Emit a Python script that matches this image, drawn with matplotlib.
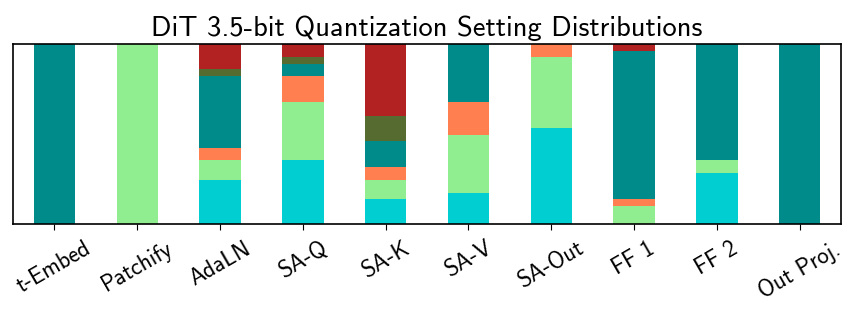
import matplotlib
matplotlib.use("Agg")
import matplotlib.pyplot as plt
import numpy as np

categories = ["t-Embed", "Patchify", "AdaLN", "SA-Q", "SA-K", "SA-V", "SA-Out", "FF 1", "FF 2", "Out Proj."]

# fractions per setting, stacked from bottom to top
s_turquoise = [0.0, 0.0, 0.246, 0.354, 0.137, 0.174, 0.533, 0.0, 0.281, 0.0]
s_lightgreen = [0.0, 1.0, 0.107, 0.324, 0.107, 0.322, 0.396, 0.102, 0.072, 0.0]
s_coral = [0.0, 0.0, 0.072, 0.144, 0.072, 0.181, 0.071, 0.035, 0.0, 0.0]
s_teal = [1.0, 0.0, 0.397, 0.070, 0.144, 0.323, 0.0, 0.826, 0.647, 1.0]
s_olive = [0.0, 0.0, 0.037, 0.037, 0.143, 0.0, 0.0, 0.0, 0.0, 0.0]
s_firebrick = [0.0, 0.0, 0.141, 0.071, 0.397, 0.0, 0.0, 0.037, 0.0, 0.0]

series = [s_turquoise, s_lightgreen, s_coral, s_teal, s_olive, s_firebrick]
colors = ["darkturquoise", "lightgreen", "coral", "darkcyan", "darkolivegreen", "firebrick"]

plt.rcParams['font.family'] = ['cmss10', 'DejaVu Sans']
plt.rcParams['axes.unicode_minus'] = False

fig = plt.figure(figsize=(8.58, 3.15), dpi=100)
ax = fig.add_axes([0.0152, 0.289, 0.965, 0.571])

x = np.arange(len(categories))
bottom = np.zeros(len(categories))
for vals, c in zip(series, colors):
    v = np.array(vals)
    ax.bar(x, v, width=0.5, bottom=bottom, color=c)
    bottom += v

ax.set_xlim(-0.5, len(categories) - 0.5)
ax.set_ylim(0, 1)
ax.set_yticks([])
ax.set_xticks(x)
ax.set_xticklabels(categories, rotation=30, ha='center', fontsize=16.5)
ax.tick_params(axis='x', length=4.5, pad=5.5)
for s in ax.spines.values():
    s.set_linewidth(1.2)
ax.set_title("DiT 3.5-bit Quantization Setting Distributions", fontsize=20.5)

fig.savefig("out.png", dpi=100)
